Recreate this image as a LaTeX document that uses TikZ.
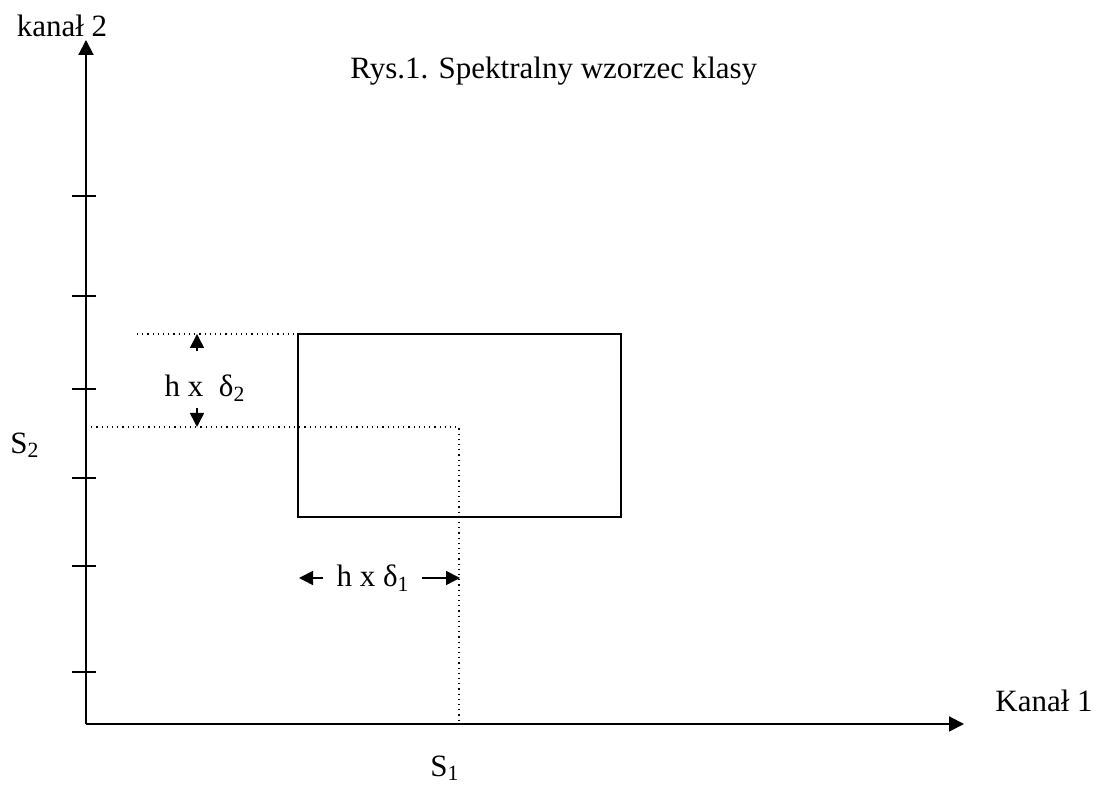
\documentclass[tikz,border=0pt]{standalone}
\usepackage{fontspec}
\setmainfont{Liberation Serif}
\usetikzlibrary{arrows.meta}
\tikzset{
  axis/.style={line width=1pt,-{Triangle[length=7.5pt,width=7.5pt]}},
  guide/.style={dotted,line width=0.6pt},
  dimarrow/.style={line width=0.8pt,-{Triangle[length=7pt,width=7pt]}},
  lbl/.style={font=\fontsize{15.5}{18}\selectfont,inner sep=0pt}
}
\begin{document}
\begin{tikzpicture}[x=0.5pt,y=0.5pt]
\useasboundingbox (0,0) rectangle (1100,785);
% osie ukladu
\coordinate (O) at (86,61);
\coordinate (ytip) at (86,745);
\coordinate (xtip) at (964,61);
\draw[axis] (O) -- (ytip);
\draw[axis] (O) -- (xtip);
\foreach \y in {589,489,396,307,219,113}
  \draw[line width=1pt] (72,\y) -- (96,\y);

% wzorzec klasy
\coordinate (rA) at (298,268);
\coordinate (rB) at (621,451);
\draw[line width=1pt] (rA) rectangle (rB);

% linie pomocnicze
\coordinate (g1) at (137,451);
\coordinate (s2) at (86,358);
\coordinate (s1) at (459,61);
\draw[guide] (g1) -- (rA |- rB);
\draw[guide] (s2) -- (s1 |- s2) -- (s1);

% strzalki h x delta
\coordinate (d2a) at (197,434);
\coordinate (d2b) at (197,451);
\coordinate (d2c) at (197,377);
\coordinate (d2d) at (197,358);
\draw[dimarrow] (d2a) -- (d2b);
\draw[dimarrow] (d2c) -- (d2d);
\node[lbl] (h2) at (205,397) {h x~~δ\textsubscript{2}};

\coordinate (d1a) at (323,207);
\coordinate (d1b) at (299,207);
\coordinate (d1c) at (422,207);
\coordinate (d1d) at (460,207);
\draw[dimarrow] (d1a) -- (d1b);
\draw[dimarrow] (d1c) -- (d1d);
\node[lbl] (h1) at (373,207) {h x δ\textsubscript{1}};

% opisy
\node[lbl,anchor=base] (k2) at (62,748) {kanał 2};
\node[lbl,anchor=base] (k1) at (1044,73) {Kanał 1};
\node[lbl] (S2) at (25,340) {S\textsubscript{2}};
\node[lbl] (S1) at (445,17) {S\textsubscript{1}};
\node[lbl,anchor=base west] (tyt) at (350,706) {Rys.1. Spektralny wzorzec klasy};
\end{tikzpicture}
\end{document}
